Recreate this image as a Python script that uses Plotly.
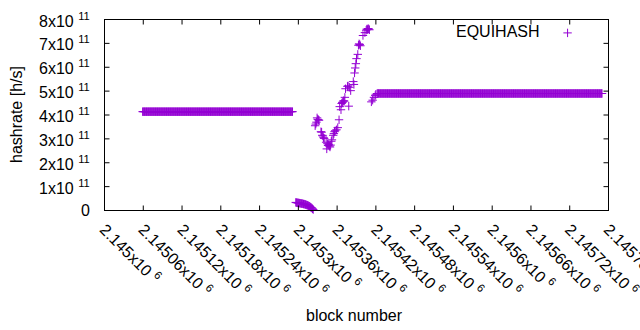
import plotly.graph_objects as go

# ---------------- data (block number, hashrate in h/s) ----------------
# flat segment before the switch (constant reading)
flat1_first, flat1_last, flat1_value = 2145059, 2145291, 4.14e11

# short low segment after the switch
low_blocks = list(range(2145296, 2145324))
low_values = [0.34e11, 0.33e11, 0.33e11, 0.32e11, 0.32e11, 0.31e11, 0.31e11, 0.30e11,
              0.30e11, 0.29e11, 0.29e11, 0.28e11, 0.27e11, 0.27e11, 0.26e11, 0.25e11,
              0.24e11, 0.23e11, 0.22e11, 0.21e11, 0.19e11, 0.18e11, 0.16e11, 0.14e11,
              0.12e11, 0.10e11, 0.07e11, 0.04e11]

# scattered recovery (V shape and rise)
v_blocks = [2145326, 2145327, 2145328, 2145329, 2145330, 2145331, 2145332, 2145335,
            2145336, 2145337, 2145338, 2145339, 2145340, 2145343, 2145344, 2145345,
            2145346, 2145347, 2145348, 2145349, 2145350, 2145351, 2145352, 2145354,
            2145355, 2145356, 2145357, 2145359, 2145361, 2145363, 2145364, 2145366,
            2145367, 2145368, 2145369, 2145370, 2145371, 2145372, 2145373, 2145376,
            2145377, 2145378, 2145379, 2145381, 2145385, 2145386, 2145387, 2145388,
            2145389, 2145390, 2145392, 2145393, 2145394, 2145395, 2145396, 2145400,
            2145403, 2145405, 2145406, 2145407, 2145408, 2145409, 2145410,
            2145413, 2145415, 2145417, 2145419, 2145420]
v_values = [3.55e11, 3.62e11, 3.70e11, 3.88e11, 3.82e11, 3.80e11, 3.78e11, 3.30e11,
            3.28e11, 3.15e11, 3.12e11, 3.05e11, 3.02e11, 2.86e11, 2.58e11, 2.80e11,
            2.72e11, 2.76e11, 2.70e11, 2.66e11, 2.74e11, 2.90e11, 2.96e11, 3.15e11,
            3.22e11, 3.30e11, 3.34e11, 3.38e11, 3.47e11, 3.80e11, 4.35e11, 4.22e11,
            4.48e11, 4.52e11, 4.55e11, 4.60e11, 4.58e11, 4.74e11, 5.10e11, 5.20e11,
            5.22e11, 4.37e11, 5.16e11, 5.02e11, 5.40e11, 5.28e11, 5.76e11, 5.97e11,
            6.15e11, 6.36e11, 6.54e11, 6.92e11, 6.98e11, 6.95e11, 6.90e11, 7.33e11,
            7.45e11, 7.55e11, 7.60e11, 7.58e11, 7.62e11, 7.60e11, 7.57e11,
            4.55e11, 4.62e11, 4.74e11, 4.82e11, 4.87e11]

# flat segment after recovery (constant reading)
flat2_first, flat2_last, flat2_value = 2145422, 2145770, 4.90e11

x_tickvals = [2145000, 2145060, 2145120, 2145180, 2145240, 2145300, 2145360,
              2145420, 2145480, 2145540, 2145600, 2145660, 2145720, 2145780]
x_ticktext = ["2.145", "2.14506", "2.14512", "2.14518", "2.14524", "2.1453", "2.14536",
              "2.14542", "2.14548", "2.14554", "2.1456", "2.14566", "2.14572", "2.14578"]
y_tickvals = [0, 1e11, 2e11, 3e11, 4e11, 5e11, 6e11, 7e11, 8e11]
y_ticktext = ["0", "1", "2", "3", "4", "5", "6", "7", "8"]

series_name = "EQUIHASH"
x_title = "block number"
y_title = "hashrate [h/s]"

# ---------------- assemble ----------------
blocks = (list(range(flat1_first, flat1_last + 1)) + low_blocks + v_blocks
          + list(range(flat2_first, flat2_last + 1)))
values = ([flat1_value] * (flat1_last - flat1_first + 1) + low_values + v_values
          + [flat2_value] * (flat2_last - flat2_first + 1))

COLOR = "#9400D3"
FONT = "Liberation Sans"
FS = 16

L, R, T, B = 104, 31, 19, 119
W, H = 640, 330
pw = W - L - R          # 505
ph = H - T - B          # 192
x0, x1 = x_tickvals[0], x_tickvals[-1]
y0, y1 = y_tickvals[0], y_tickvals[-1]
sx = (pw - 1) / (x1 - x0)       # px per block between frame lines (half-pixel aligned)
sy = (ph - 1) / (y1 - y0)
X_RANGE = [x0 - 0.5 / sx, x1 + 0.5 / sx]
Y_RANGE = [y0 - 0.5 / sy, y1 + 0.5 / sy]
TL = 5                              # tick length, px
xm, ym = (x0 + x1) / 2, (y0 + y1) / 2
K = 1.4                             # plotly line-symbol half length = 0.7 * size

fig = go.Figure()
fig.add_trace(go.Scatter(
    x=blocks, y=values, mode="markers", name=" ",
    marker=dict(symbol="cross-thin", size=6, color=COLOR,
                line=dict(width=1, color=COLOR)),
    cliponaxis=False,
))

# border box drawn with line-symbols (horizontal and vertical edges)
frame_style = dict(mode="markers", hoverinfo="skip", showlegend=False, cliponaxis=False)
fig.add_trace(go.Scatter(
    x=[xm, xm], y=[y0, y1],
    marker=dict(symbol="line-ew", size=(pw) / K, color="#000000",
                line=dict(width=1, color="#000000")), **frame_style))
fig.add_trace(go.Scatter(
    x=[x0, x1], y=[ym, ym],
    marker=dict(symbol="line-ns", size=(ph) / K, color="#000000",
                line=dict(width=1, color="#000000")), **frame_style))

# inside tick marks on all four sides, at the tick values
dy = (TL / 2) / sy
dx = (TL / 2) / sx
xt_x = [v for v in x_tickvals[1:-1] for _ in (0, 1)]
xt_y = [y for _ in x_tickvals[1:-1] for y in (y0 + dy, y1 - dy)]
yt_x = [x for _ in y_tickvals[1:-1] for x in (x0 + dx, x1 - dx)]
yt_y = [v for v in y_tickvals[1:-1] for _ in (0, 1)]
fig.add_trace(go.Scatter(
    x=xt_x, y=xt_y,
    marker=dict(symbol="line-ns", size=TL / K, color="#000000",
                line=dict(width=1, color="#000000")), **frame_style))
fig.add_trace(go.Scatter(
    x=yt_x, y=yt_y,
    marker=dict(symbol="line-ew", size=TL / K, color="#000000",
                line=dict(width=1, color="#000000")), **frame_style))

# y tick labels as text placed at the tick values
y_label_annotations = [
    dict(text=(t if t == "0" else t + "x10 <sup>11</sup>"), xref="paper", yref="y",
         x=(92 - L) / pw, y=v, xanchor="right", yanchor="middle", showarrow=False,
         font=dict(size=FS, color="#000000"))
    for v, t in zip(y_tickvals, y_ticktext)
]

fig.update_layout(
    template="none",
    width=W, height=H,
    margin=dict(l=L, r=R, t=T, b=B, pad=0, autoexpand=False),
    paper_bgcolor="white", plot_bgcolor="white",
    font=dict(family=FONT, size=FS, color="#000000"),
    showlegend=True,
    legend=dict(
        x=(598 - L) / pw, y=1 - (16 - T) / ph, xanchor="right", yanchor="top",
        bgcolor="rgba(0,0,0,0)", borderwidth=0,
        title=dict(text=series_name, side="left", font=dict(size=FS)),
        font=dict(size=FS), itemwidth=30,
    ),
    xaxis=dict(
        range=X_RANGE, automargin=False, tickmode="array",
        tickvals=x_tickvals,
        ticktext=[t + "x10 <sup>6</sup>" for t in x_ticktext],
        tickangle=45, ticklabeloverflow="allow",
        ticks="outside", ticklen=2, tickcolor="rgba(0,0,0,0)",
        showline=False, showgrid=False, zeroline=False,
        tickfont=dict(size=FS, color="#000000"),
    ),
    yaxis=dict(
        range=Y_RANGE, automargin=False,
        showticklabels=False, ticks="",
        showline=False, showgrid=False, zeroline=False,
    ),
    annotations=y_label_annotations + [
        dict(text=x_title, xref="paper", yref="paper",
             x=(354 - L) / pw, y=-(315 - (T + ph)) / ph,
             xanchor="center", yanchor="middle", showarrow=False,
             font=dict(size=FS)),
        dict(text=y_title, xref="paper", yref="paper",
             x=(16 - L) / pw, y=0.5, textangle=-90,
             xanchor="center", yanchor="middle", showarrow=False,
             font=dict(size=FS)),
    ],
)

fig.write_html("out.html", config={"displayModeBar": False},
               post_script="document.body.style.margin='0';")
